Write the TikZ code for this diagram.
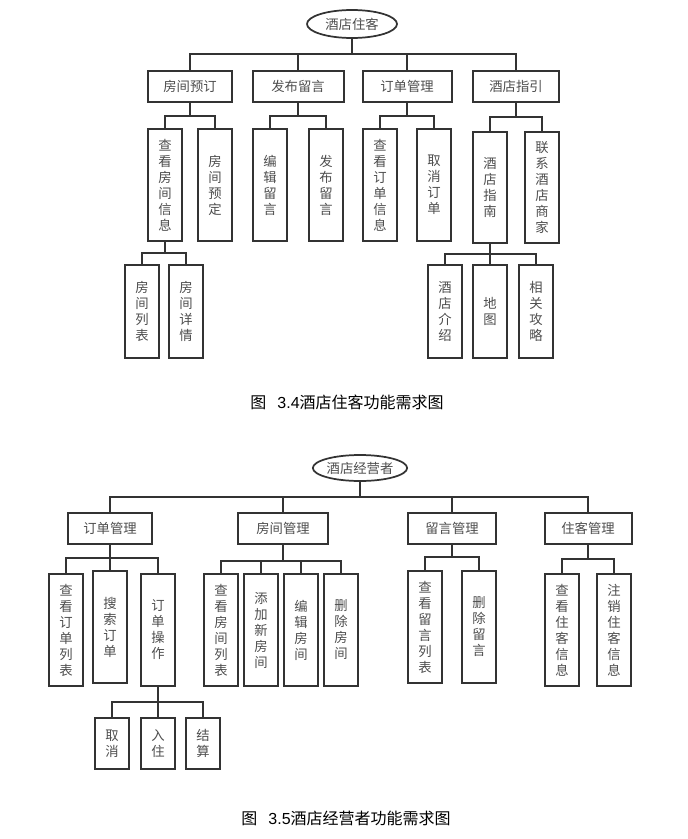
\documentclass[tikz,border=0pt]{standalone}
\usepackage{fontspec}
\usepackage{xcolor}
\usepackage{tikz}
\usetikzlibrary{shapes.geometric}
\newfontfamily\cjk{Noto Sans CJK SC}
\newfontfamily\latin{Liberation Sans}
\definecolor{line}{HTML}{333333}
\definecolor{txt}{HTML}{4D4D4D}
\tikzset{
  rootnode/.style={ellipse,draw=line,line width=1.3pt,inner sep=0pt,minimum width=67.5pt},
  topbox/.style={draw=line,line width=1.5pt,inner sep=0pt,minimum height=23.25pt},
  vbox/.style={draw=line,line width=1.5pt,inner sep=0pt,minimum width=26pt,align=center},
  link/.style={draw=line,line width=1.35pt},
  caption/.style={text=black,font=\cjk\fontsize{12}{14}\selectfont}
}
\begin{document}
\begin{tikzpicture}[x=0.75pt,y=-0.75pt,every node/.style={font=\cjk\fontsize{10}{12}\selectfont,text=txt}]
  \useasboundingbox (0,0) rectangle (687,839);
  % guest
  \node[rootnode,minimum height=21pt] (r1) at (352,24) {酒店住客};
  \node[topbox,minimum width=63pt] (u1) at (190,86.5) {房间预订};
  \node[topbox,minimum width=68.25pt] (u2) at (298,86.5) {发布留言};
  \node[topbox,minimum width=66.75pt] (u3) at (407,86.5) {订单管理};
  \node[topbox,minimum width=64.5pt] (u4) at (516,86.5) {酒店指引};
  \foreach \n/\x/\t in {u11/165/{查\\看\\房\\间\\信\\息},u12/215/{房\\间\\预\\定},
      u21/270/{编\\辑\\留\\言},u22/326/{发\\布\\留\\言},
      u31/380/{查\\看\\订\\单\\信\\息},u32/434/{取\\消\\订\\单}}
    \node[vbox,minimum height=84pt] (\n) at (\x,185) {\t};
  \foreach \n/\x/\t in {u41/490/{酒\\店\\指\\南},u42/542/{联\\系\\酒\\店\\商\\家}}
    \node[vbox,minimum height=83.25pt] (\n) at (\x,187.5) {\t};
  \foreach \n/\x/\t in {u111/142/{房\\间\\列\\表},u112/186/{房\\间\\详\\情},
      u411/445/{酒\\店\\介\\绍},u412/490/{地\\图},u413/536/{相\\关\\攻\\略}}
    \node[vbox,minimum height=69.75pt] (\n) at (\x,311.5) {\t};
  \coordinate (r1bus) at (352,54);
  \coordinate (u1bus) at (190,116);
  \coordinate (u2bus) at (298,116);
  \coordinate (u3bus) at (407,116);
  \coordinate (u4bus) at (516,117);
  \coordinate (u11bus) at (165,253);
  \coordinate (u41bus) at (490,254);
  \draw[link] (r1.south) -- (r1bus);
  \draw[link] (u1.north) |- (r1bus) -| (u4.north);
  \draw[link] (u2.north) -- (u2.north |- r1bus);
  \draw[link] (u3.north) -- (u3.north |- r1bus);
  \draw[link] (u1.south) -- (u1bus);
  \draw[link] (u11.north) |- (u1bus) -| (u12.north);
  \draw[link] (u2.south) -- (u2bus);
  \draw[link] (u21.north) |- (u2bus) -| (u22.north);
  \draw[link] (u3.south) -- (u3bus);
  \draw[link] (u31.north) |- (u3bus) -| (u32.north);
  \draw[link] (u4.south) -- (u4bus);
  \draw[link] (u41.north) |- (u4bus) -| (u42.north);
  \draw[link] (u11.south) -- (u11bus);
  \draw[link] (u111.north) |- (u11bus) -| (u112.north);
  \draw[link] (u41.south) -- (u412.north);
  \draw[link] (u411.north) |- (u41bus) -| (u413.north);
  \node[caption] (cap1) at (347,402) {图\hspace{0.7em}{\latin 3.4}酒店住客功能需求图};
  % manager
  \node[rootnode,minimum height=19.5pt] (r2) at (360,468) {酒店经营者};
  \node[topbox,minimum width=63pt] (m1) at (110,528.5) {订单管理};
  \node[topbox,minimum width=67.5pt] (m2) at (283,528.5) {房间管理};
  \node[topbox,minimum width=66pt] (m3) at (452,528.5) {留言管理};
  \node[topbox,minimum width=65.25pt] (m4) at (588,528.5) {住客管理};
  \foreach \n/\x/\t in {m11/66/{查\\看\\订\\单\\列\\表},m13/158/{订\\单\\操\\作},
      m21/221/{查\\看\\房\\间\\列\\表},m22/261/{添\\加\\新\\房\\间},
      m23/301/{编\\辑\\房\\间},m24/341/{删\\除\\房\\间},
      m41/562/{查\\看\\住\\客\\信\\息},m42/614/{注\\销\\住\\客\\信\\息}}
    \node[vbox,minimum height=84pt] (\n) at (\x,630) {\t};
  \foreach \n/\x/\t in {m12/110/{搜\\索\\订\\单},m31/425/{查\\看\\留\\言\\列\\表},m32/479/{删\\除\\留\\言}}
    \node[vbox,minimum height=84pt] (\n) at (\x,627) {\t};
  \foreach \n/\x/\t in {m131/112/{取\\消},m132/158/{入\\住},m133/203/{结\\算}}
    \node[vbox,minimum height=38.25pt] (\n) at (\x,743.5) {\t};
  \coordinate (r2bus) at (360,497);
  \coordinate (m1bus) at (110,558);
  \coordinate (m2bus) at (283,561);
  \coordinate (m3bus) at (452,557);
  \coordinate (m4bus) at (588,559);
  \coordinate (m13bus) at (158,702);
  \draw[link] (r2.south) -- (r2bus);
  \draw[link] (m1.north) |- (r2bus) -| (m4.north);
  \draw[link] (m2.north) -- (m2.north |- r2bus);
  \draw[link] (m3.north) -- (m3.north |- r2bus);
  \draw[link] (m1.south) -- (m12.north);
  \draw[link] (m11.north) |- (m1bus) -| (m13.north);
  \draw[link] (m2.south) -- (m2bus);
  \draw[link] (m21.north) |- (m2bus) -| (m24.north);
  \draw[link] (m22.north) -- (m22.north |- m2bus);
  \draw[link] (m23.north) -- (m23.north |- m2bus);
  \draw[link] (m3.south) -- (m3bus);
  \draw[link] (m31.north) |- (m3bus) -| (m32.north);
  \draw[link] (m4.south) -- (m4bus);
  \draw[link] (m41.north) |- (m4bus) -| (m42.north);
  \draw[link] (m13.south) -- (m132.north);
  \draw[link] (m131.north) |- (m13bus) -| (m133.north);
  \node[caption] (cap2) at (346,818) {图\hspace{0.7em}{\latin 3.5}酒店经营者功能需求图};
\end{tikzpicture}
\end{document}
